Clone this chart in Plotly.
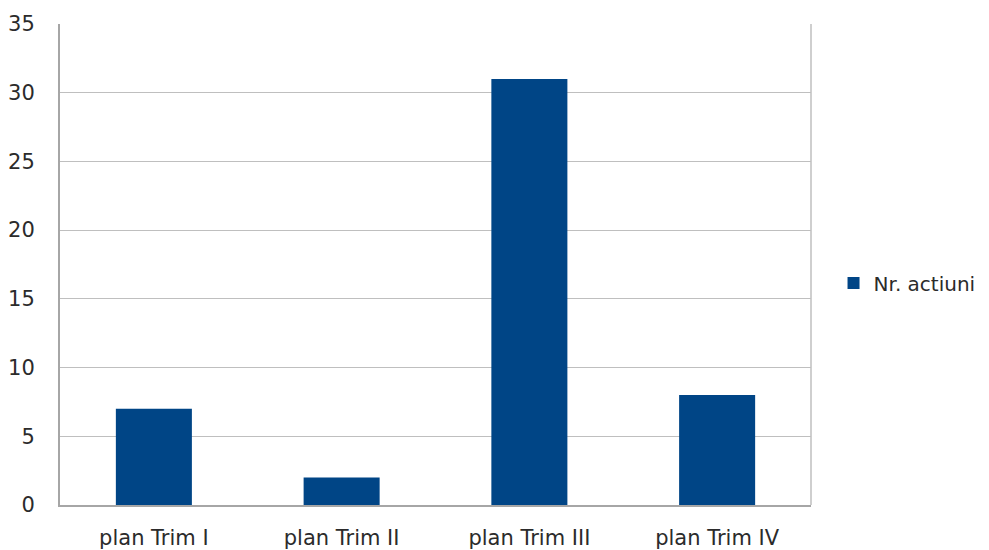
import plotly.graph_objects as go

categories = ["plan Trim I", "plan Trim II", "plan Trim III", "plan Trim IV"]
values = [7, 2, 31, 8]
series_name = "Nr. actiuni"
y_ticks = [0, 5, 10, 15, 20, 25, 30, 35]

fig = go.Figure()
fig.add_trace(go.Bar(
    x=categories, y=values, name=series_name,
    marker=dict(color="#004586", line=dict(width=0)),
    showlegend=True,
))

font = dict(family="DejaVu Sans, sans-serif", size=21, color="#2b2b2b")
fig.update_layout(
    width=989, height=550,
    margin=dict(l=52, r=186, t=16, b=53, autoexpand=False),
    paper_bgcolor="white", plot_bgcolor="white",
    bargap=0.595,
    font=font,
    showlegend=True,
    legend=dict(x=1.03, y=0.4615, xanchor="left", yanchor="middle",
                font=dict(family="DejaVu Sans, sans-serif", size=20, color="#2b2b2b"),
                itemwidth=30),
    xaxis=dict(showline=True, linecolor="#a6a6a6", linewidth=2, mirror=False,
               ticks="", ticklabelstandoff=13, showgrid=False, automargin=False),
    yaxis=dict(range=[0, 35], tickvals=y_ticks, showline=True, linecolor="#a6a6a6",
               linewidth=2, ticks="", ticklabelstandoff=19, automargin=False,
               gridcolor="#bfbfbf", gridwidth=1, zeroline=False),
)
# right border of plot area
fig.add_shape(type="line", xref="paper", yref="paper", x0=1, x1=1, y0=0, y1=1,
              line=dict(color="#bfbfbf", width=1.5))

fig.write_html("out.html")
